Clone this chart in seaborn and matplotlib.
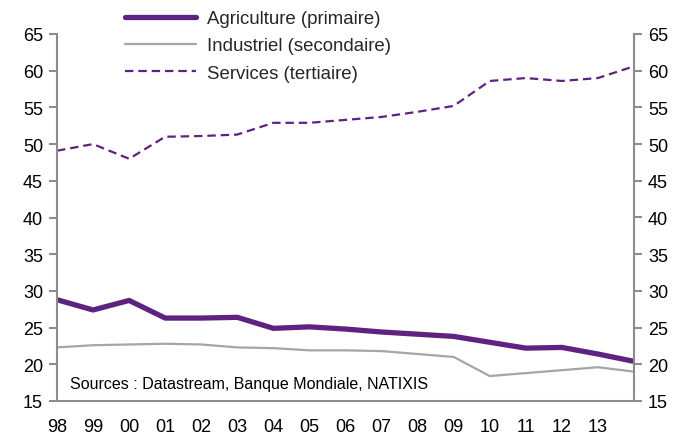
import matplotlib
matplotlib.use("Agg")
import matplotlib.pyplot as plt
import seaborn as sns
import pandas as pd

years = list(range(1998, 2015))
tick_labels = ["98", "99", "00", "01", "02", "03", "04", "05", "06", "07",
               "08", "09", "10", "11", "12", "13"]
agriculture = [28.8, 27.4, 28.7, 26.3, 26.3, 26.4, 24.9, 25.1, 24.8, 24.4,
               24.1, 23.8, 23.0, 22.2, 22.3, 21.4, 20.4]
industriel = [22.3, 22.6, 22.7, 22.8, 22.7, 22.3, 22.2, 21.9, 21.9, 21.8,
              21.4, 21.0, 18.4, 18.8, 19.2, 19.6, 19.0]
services = [49.1, 50.0, 48.0, 51.0, 51.1, 51.3, 52.9, 52.9, 53.3, 53.7,
            54.4, 55.2, 58.6, 59.0, 58.6, 59.0, 60.6]
names = ["Agriculture (primaire)", "Industriel (secondaire)", "Services (tertiaire)"]

sns.set_style("white")
plt.rcParams['font.family'] = ['Liberation Sans', 'DejaVu Sans']

purple = "#5E2380"
grey = "#A6A6A6"
spine = "#8C8C8C"

fig = plt.figure(figsize=(6.94, 4.39), dpi=100)
ax = fig.add_axes([57/694, 37/439, (634-57)/694, (402-35)/439])

df = pd.DataFrame({"year": years, "a": agriculture, "i": industriel, "s": services})
sns.lineplot(data=df, x="year", y="a", ax=ax, color=purple, linewidth=3.8, label=names[0])
sns.lineplot(data=df, x="year", y="i", ax=ax, color=grey, linewidth=1.6, label=names[1])
sns.lineplot(data=df, x="year", y="s", ax=ax, color=purple, linewidth=1.6,
             linestyle=(0, (3.8, 2.2)), label=names[2])

ax.set_xlim(1998, 2014)
ax.set_ylim(15, 65)
ax.set_yticks(range(15, 70, 5))
ax.set_xticks(years[:-1])
ax.set_xticklabels(tick_labels)
ax.set_xlabel("")
ax.set_ylabel("")

for side in ["top", "right"]:
    ax.spines[side].set_visible(False)
for side in ["left", "bottom"]:
    ax.spines[side].set_color(spine)
    ax.spines[side].set_linewidth(1.5)
ax.tick_params(axis="both", which="both", direction="out", length=6, width=1.5,
               color=spine, labelsize=13, labelcolor="black")
ax.tick_params(axis="y", pad=4)
ax.tick_params(axis="x", pad=6)

ax2 = ax.twinx()
ax2.set_ylim(15, 65)
ax2.set_yticks(range(15, 70, 5))
for side in ["top", "left", "bottom"]:
    ax2.spines[side].set_visible(False)
ax2.spines["right"].set_color(spine)
ax2.spines["right"].set_linewidth(1.5)
ax2.tick_params(axis="y", direction="out", length=6, width=1.5, color=spine,
                labelsize=13, labelcolor="black", pad=4)

ax.get_legend().remove()
handles, labels = ax.get_legend_handles_labels()
fig.legend(handles, labels, loc="upper left", bbox_to_anchor=(125/694, 1.0 - 11/439),
           frameon=False, fontsize=13.4, handlelength=3.8, handletextpad=0.6,
           labelspacing=0.56, borderaxespad=0, borderpad=0)

ax.text(1998.36, 16.8, "Sources : Datastream, Banque Mondiale, NATIXIS",
        fontsize=11.5, color="black", ha="left", va="baseline")

fig.savefig("out.png", dpi=100)
